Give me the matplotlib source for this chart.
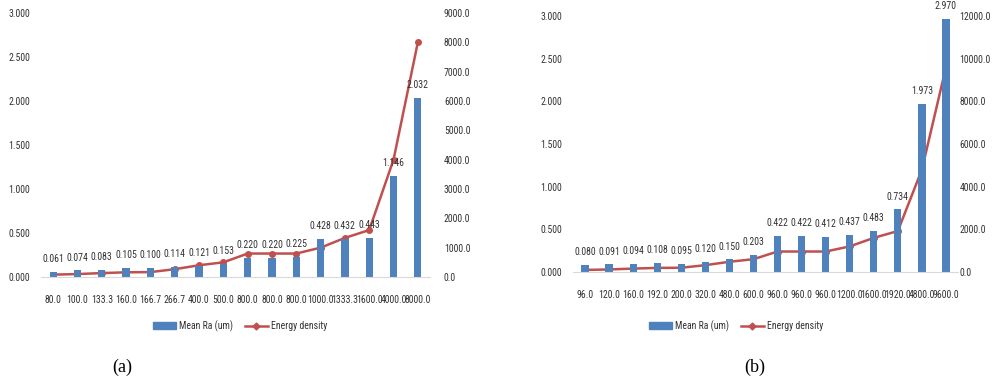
import numpy as np
import matplotlib.pyplot as plt
from matplotlib.lines import Line2D
from matplotlib.patches import Patch

plt.rcParams['font.family'] = ['Roboto Condensed', 'Liberation Sans Narrow', 'DejaVu Sans']

# chart (a)
energy_a = [80.0, 100.0, 133.3, 160.0, 166.7, 266.7, 400.0, 500.0, 800.0, 800.0,
            800.0, 1000.0, 1333.3, 1600.0, 4000.0, 8000.0]
ra_a = [0.061, 0.074, 0.083, 0.105, 0.100, 0.114, 0.121, 0.153, 0.220, 0.220,
        0.225, 0.428, 0.432, 0.443, 1.146, 2.032]

# chart (b)
energy_b = [96.0, 120.0, 160.0, 192.0, 200.0, 320.0, 480.0, 600.0, 960.0, 960.0,
            960.0, 1200.0, 1600.0, 1920.0, 4800.0, 9600.0]
ra_b = [0.080, 0.091, 0.094, 0.108, 0.095, 0.120, 0.150, 0.203, 0.422, 0.422,
        0.412, 0.437, 0.483, 0.734, 1.973, 2.970]

bar_c = '#4F81BD'
line_c = '#C0504D'
txt_c = '#333333'
fs = 7

fig = plt.figure(figsize=(9.93, 3.8), dpi=100)


def draw(rect, energy, ra, emax, estep, legx, caption, capx, rpad):
    ax = fig.add_axes(rect)
    x = np.arange(len(energy))
    ax.bar(x, ra, width=0.3, color=bar_c, zorder=2)
    for xi, v in zip(x, ra):
        ax.text(xi, v + 0.09, '%.3f' % v, ha='center', va='bottom',
                fontsize=fs, color=txt_c, zorder=5)
    ax.set_xlim(-0.5, len(energy) - 0.5)
    ax.set_ylim(0, 3.0)
    ax.set_yticks(np.arange(0, 3.01, 0.5))
    ax.set_yticklabels(['%.3f' % t for t in np.arange(0, 3.01, 0.5)])
    ax.set_xticks(x)
    ax.set_xticklabels(['%.1f' % e for e in energy])
    for s in ['top', 'left', 'right']:
        ax.spines[s].set_visible(False)
    ax.spines['bottom'].set_color('#d9d9d9')
    ax.tick_params(length=0, labelsize=fs, colors=txt_c)
    ax.tick_params(axis='y', pad=8)
    ax.tick_params(axis='x', pad=13)

    ax2 = ax.twinx()
    ax2.plot(x, energy, color=line_c, lw=1.8, marker='o', ms=4, zorder=3)
    ax2.set_ylim(0, emax)
    ticks = np.arange(0, emax + 1, estep)
    ax2.set_yticks(ticks)
    ax2.set_yticklabels(['%.1f' % t for t in ticks])
    for s in ['top', 'left', 'right', 'bottom']:
        ax2.spines[s].set_visible(False)
    ax2.tick_params(length=0, labelsize=fs, colors=txt_c, pad=rpad)
    ax.set_zorder(ax2.get_zorder() + 1)
    ax.patch.set_visible(False)

    handles = [Patch(color=bar_c, label='Mean Ra (um)'),
               Line2D([0], [0], color=line_c, lw=1.8, marker='D', ms=3.5,
                      label='Energy density')]
    fig.legend(handles=handles, loc='center', bbox_to_anchor=(legx, 1 - 326 / 380),
               ncol=2, frameon=False, fontsize=fs, handlelength=2.4,
               columnspacing=1.2, handletextpad=0.3, labelcolor=txt_c)
    fig.text(capx, 1 - 367 / 380, caption, ha='center', va='center',
             fontsize=13, family='Liberation Serif')


draw([41 / 993, 1 - 277 / 380, 389 / 993, 264 / 380], energy_a, ra_a,
     9000, 1000, 240 / 993, '(a)', 122 / 993, 10)
draw([573 / 993, 1 - 272 / 380, 385 / 993, 256 / 380], energy_b, ra_b,
     12000, 2000, 736 / 993, '(b)', 755 / 993, 1)

fig.savefig('out.png', dpi=100)
